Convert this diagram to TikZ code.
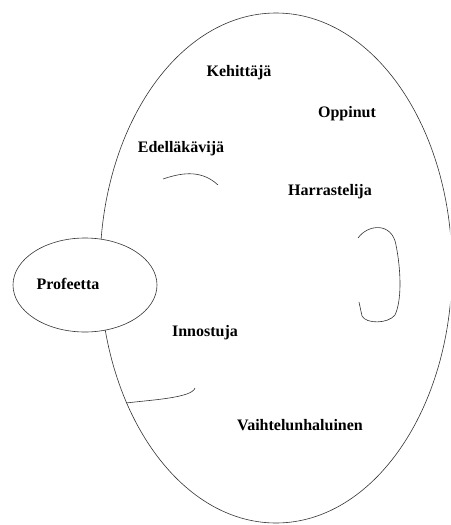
\documentclass[tikz,border=0pt]{standalone}
\usepackage{fontspec}
\setmainfont{Liberation Serif}
\usepackage{tikz}
\usetikzlibrary{shapes.geometric}

\begin{document}
\begin{tikzpicture}[
    x=1pt, y=-1pt,
    line_style/.style={draw=black!80, line width=0.6pt},
    % Ellipses
    egg_node/.style={ellipse, line_style, inner sep=0pt, minimum width=352pt, minimum height=510pt},
    prof_node/.style={ellipse, line_style, fill=white, inner sep=0pt, minimum width=144pt, minimum height=94pt},
    % Labels
    type_label/.style={anchor=base, inner sep=0pt, font=\fontsize{16}{18}\selectfont\bfseries}
]
    \useasboundingbox (0,0) rectangle (450,525);
    \clip (0,0) rectangle (450,525);

    % =========================================================================
    % ELLIPSES
    % =========================================================================
    \node [egg_node] (egg) at (276,268) {};
    \node [prof_node] (prof) at (85,285) {};

    % =========================================================================
    % INNER ARCS
    % =========================================================================
    \draw [line_style] (163,179) .. controls (178,174) and (200,168) .. (218,185);
    \draw [line_style] (358,238) .. controls (368,224) and (392,222) .. (396,245)
        .. controls (401,270) and (402,300) .. (395,315)
        .. controls (388,324) and (366,324) .. (362,316)
        -- (359,302);
    \draw [line_style] (126,403) .. controls (150,400) and (192,398) .. (195,388);

    % =========================================================================
    % LABELS
    % =========================================================================
    \node [type_label] (keh) at (239,76) {Kehittäjä};
    \node [type_label] (opp) at (347,117) {Oppinut};
    \node [type_label] (ede) at (181,152) {Edelläkävijä};
    \node [type_label] (har) at (330,195) {Harrastelija};
    \node [type_label] (pro) at (68,289) {Profeetta};
    \node [type_label] (inn) at (205,336) {Innostuja};
    \node [type_label] (vai) at (300,430) {Vaihtelunhaluinen};
\end{tikzpicture}
\end{document}
